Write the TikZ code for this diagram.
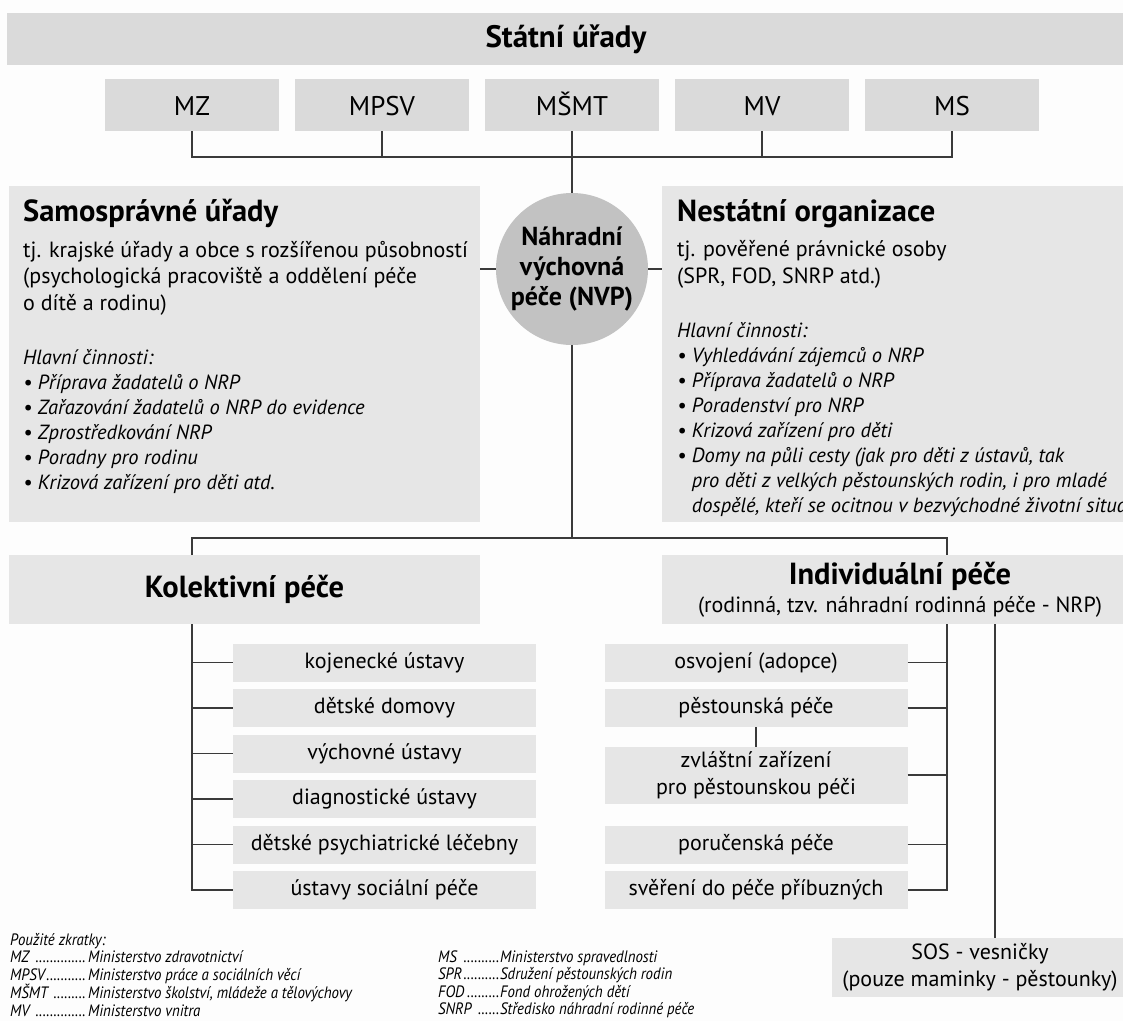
\documentclass[tikz,border=0pt]{standalone}
\usepackage{fontspec}
\setmainfont{PT Sans}
\newfontfamily\legendfont[FakeStretch=0.9]{PT Sans}
\usetikzlibrary{positioning,calc}
\definecolor{bandgray}{HTML}{DADADA}
\definecolor{boxgray}{HTML}{E6E6E6}
\definecolor{hubgray}{HTML}{C2C2C2}
\definecolor{wire}{HTML}{3A3A3A}
\definecolor{paper}{HTML}{FDFDFD}
\tikzset{
  band/.style={fill=bandgray,inner sep=0pt,outer sep=0pt,minimum height=52pt},
  minbox/.style={fill=bandgray,inner sep=0pt,outer sep=0pt,minimum width=174pt,minimum height=52pt,text height=20pt,text depth=0pt,font=\fontsize{27}{30}\selectfont},
  panel/.style={fill=boxgray,inner sep=0pt,outer sep=0pt,anchor=north west},
  paneltext/.style={anchor=north west,align=left,inner sep=0pt,font=\fontsize{22}{26.5}\selectfont},
  headbox/.style={fill=boxgray,inner sep=0pt,outer sep=0pt,minimum height=69pt,align=center,font=\fontsize{22}{28}\selectfont},
  itembox/.style={fill=boxgray,inner sep=0pt,outer sep=0pt,minimum width=303pt,align=center,font=\fontsize{22}{27}\selectfont},
  item/.style={itembox,minimum height=38pt,text height=16pt,text depth=5pt},
  hub/.style={circle,fill=hubgray,minimum size=152pt,inner sep=0pt,outer sep=0pt,align=center,font=\fontsize{26}{30}\selectfont\bfseries},
  wire/.style={draw=wire,line width=1.6pt},
  legend/.style={anchor=north west,align=left,inner sep=0pt,font=\legendfont\itshape\fontsize{16.5}{17.5}\selectfont},
}
\newcommand{\headfont}{\fontsize{30.5}{30}\selectfont\bfseries}
\newcommand{\taskfont}{\fontsize{20.5}{26.5}\selectfont\itshape}
\newcommand{\abbrrow}[3]{\makebox[#1][l]{#2\leaders\hbox to 3.6pt{\hss.\hss}\hfill}#3}

\begin{document}
\begin{tikzpicture}[x=1pt,y=-1pt,node distance=7.5pt]
\useasboundingbox (0,0) rectangle (1123,1021);
\fill[paper] (0,0) rectangle (1123,1021);

% state level
\node[band,minimum width=1118pt,font=\fontsize{31}{32}\selectfont\bfseries] (state) at (566,39) {Státní úřady};
\node[minbox] (mz) at (192,105) {MZ};
\node[minbox,right=16pt of mz] (mpsv) {MPSV};
\node[minbox,right=16pt of mpsv] (msmt) {MŠMT};
\node[minbox,right=16pt of msmt] (mv) {MV};
\node[minbox,right=16pt of mv] (ms) {MS};

% centre
\node[hub] (hub) at (572,269) {Náhradní\\výchovná\\péče (NVP)};

% side panels
\node[panel,minimum width=471pt,minimum height=336pt] (sam) at (9,186) {};
\node[paneltext] (samtxt) at (23,199) {%
  {\headfont Samosprávné úřady}\\[9pt]
  tj. krajské úřady a obce s rozšířenou působností\\
  (psychologická pracoviště a oddělení péče\\
  o dítě a rodinu)\\[28pt]
  \taskfont Hlavní činnosti:\\[-1.5pt]
  \taskfont • Příprava žadatelů o NRP\\[-1.5pt]
  \taskfont • Zařazování žadatelů o NRP do evidence\\[-1.5pt]
  \taskfont • Zprostředkování NRP\\[-1.5pt]
  \taskfont • Poradny pro rodinu\\[-1.5pt]
  \taskfont • Krizová zařízení pro děti atd.};
\node[panel,minimum width=480pt,minimum height=336pt] (nes) at (662,186) {};
\node[paneltext] (nestxt) at (677,199) {%
  {\headfont Nestátní organizace}\\[9pt]
  tj. pověřené právnické osoby\\
  (SPR, FOD, SNRP atd.)\\[27.5pt]
  \taskfont Hlavní činnosti:\\[-1.5pt]
  \taskfont • Vyhledávání zájemců o NRP\\[-1.5pt]
  \taskfont • Příprava žadatelů o NRP\\[-1.5pt]
  \taskfont • Poradenství pro NRP\\[-1.5pt]
  \taskfont • Krizová zařízení pro děti\\[-1.5pt]
  \taskfont • Domy na půli cesty (jak pro děti z ústavů, tak\\[-1.5pt]
  \taskfont \phantom{• }pro děti z velkých pěstounských rodin, i pro mladé\\[-1.5pt]
  \taskfont \phantom{• }dospělé, kteří se ocitnou v bezvýchodné životní situaci)};

% care types
\node[headbox,minimum width=471pt,font=\headfont] (kol) at (244.5,589.5) {Kolektivní péče};
\node[headbox,minimum width=476pt] (ind) at (900,589.5) {{\headfont Individuální péče}\\(rodinná, tzv. náhradní rodinná péče - NRP)};

\node[item] (k1) at (384.5,662.5) {kojenecké ústavy};
\node[item,below=of k1] (k2) {dětské domovy};
\node[item,below=of k2] (k3) {výchovné ústavy};
\node[item,below=of k3] (k4) {diagnostické ústavy};
\node[item,below=of k4] (k5) {dětské psychiatrické léčebny};
\node[item,below=of k5] (k6) {ústavy sociální péče};

\node[item] (i1) at (756,662.5) {osvojení (adopce)};
\node[item,below=of i1] (i2) {pěstounská péče};
\node[itembox,minimum height=57pt,below=19.5pt of i2] (i3) {zvláštní zařízení\\pro pěstounskou péči};
\node[item,below=22pt of i3] (i4) {poručenská péče};
\node[item,below=of i4] (i5) {svěření do péče příbuzných};

\node[itembox,minimum width=296pt,minimum height=59pt] (sos) at (980,967.5) {SOS - vesničky\\(pouze maminky - pěstounky)};

% connectors
\draw[wire] (mz.south) -- ++(0,26) -| (ms.south);
\draw[wire] (mpsv.south) -- ++(0,26);
\draw[wire] (mv.south) -- ++(0,26);
\draw[wire] (msmt.south) -- (hub.north);
\draw[wire] (hub.west) -- (hub.west -| sam.east);
\draw[wire] (hub.east) -- (hub.east -| nes.west);
\coordinate (kroot) at (192,538);
\coordinate (iroot) at (947,538);
\coordinate (soscol) at (995,538);
\draw[wire] (hub.south) -- (hub.south |- kroot);
\draw[wire] (kroot |- kol.north) -- (kroot) -- (iroot) -- (iroot |- ind.north);
\draw[wire] (kroot |- kol.south) |- (k6.west);
\foreach \n in {k1,k2,k3,k4,k5}
  \draw[wire] (kroot |- \n.west) -- (\n.west);
\draw[wire] (iroot |- ind.south) |- (i5.east);
\foreach \n in {i1,i2,i3,i4}
  \draw[wire] (\n.east) -- (iroot |- \n.east);
\draw[wire] (i2.south) -- (i3.north);
\draw[wire] (soscol |- ind.south) -- (soscol |- sos.north);

% abbreviations
\node[legend] (abbrL) at (10,933) {%
  Použité zkratky:\\
  \abbrrow{78pt}{MZ }{Ministerstvo zdravotnictví}\\
  \abbrrow{78pt}{MPSV}{Ministerstvo práce a sociálních věcí}\\
  \abbrrow{78pt}{MŠMT }{Ministerstvo školství, mládeže a tělovýchovy}\\
  \abbrrow{78pt}{MV }{Ministerstvo vnitra}};
\node[legend] (abbrR) at ([xshift=428pt,yshift=-17.5pt]abbrL.north west) {%
  \abbrrow{62pt}{MS }{Ministerstvo spravedlnosti}\\
  \abbrrow{62pt}{SPR}{Sdružení pěstounských rodin}\\
  \abbrrow{62pt}{FOD}{Fond ohrožených dětí}\\
  \abbrrow{62pt}{SNRP }{Středisko náhradní rodinné péče}};
\end{tikzpicture}
\end{document}
